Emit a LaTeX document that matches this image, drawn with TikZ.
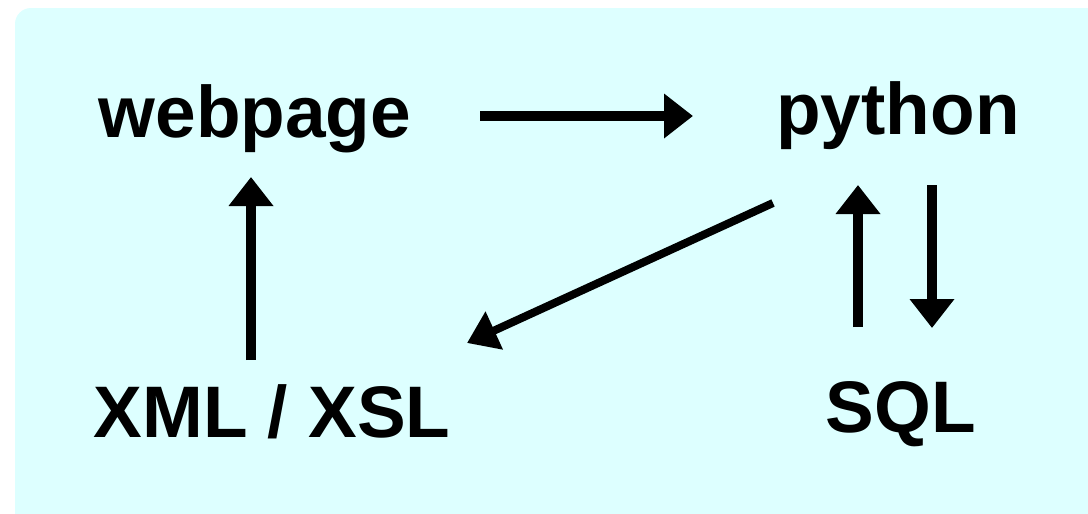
\documentclass[tikz,border=0pt]{standalone}
\usepackage{fontspec}
\setmainfont{Liberation Sans}
\usetikzlibrary{arrows.meta}
\definecolor{bgcyan}{RGB}{221,255,255}
\tikzset{
  lbl/.style={font=\bfseries\fontsize{73}{80}\selectfont, anchor=base, inner sep=0pt, text=black},
  flow/.style={line width=10pt, -{Triangle[length=29pt,width=43pt]}},
  diag/.style={line width=8pt, -{Triangle[length=30pt,width=40pt]}}
}
\begin{document}
\begin{tikzpicture}[x=1pt,y=-1pt]
\useasboundingbox (0,0) rectangle (1088,514);
\fill[white] (0,0) rectangle (1088,514);
\fill[bgcyan, rounded corners=16pt] (15,8) rectangle (1110,530);
\node[lbl] (web) at (255,137) {webpage};
\node[lbl] (py) at (898,134) {python};
\node[lbl] (xml) at (272,437) {XML / XSL};
\node[lbl] (sql) at (901,432) {SQL};
\coordinate (a1s) at (251,360);
\coordinate (a1e) at (251,177);
\coordinate (a2s) at (480,116);
\coordinate (a2e) at (693,116);
\coordinate (a3s) at (773,203);
\coordinate (a3e) at (467,343);
\coordinate (a4s) at (858,327);
\coordinate (a4e) at (858,185);
\coordinate (a5s) at (932,185);
\coordinate (a5e) at (932,328);
\draw[flow] (a1s) -- (a1e);
\draw[flow] (a2s) -- (a2e);
\draw[diag] (a3s) -- (a3e);
\draw[flow] (a4s) -- (a4e);
\draw[flow] (a5s) -- (a5e);
\end{tikzpicture}
\end{document}
